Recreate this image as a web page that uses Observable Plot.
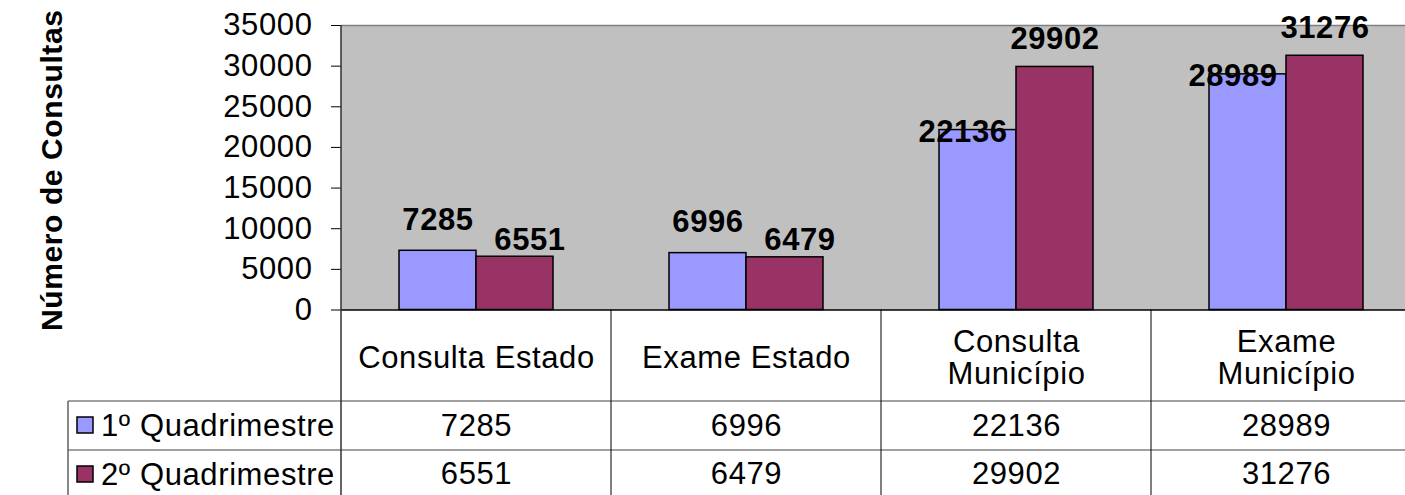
<!DOCTYPE html>
<html><head><meta charset="utf-8">
<script src="https://cdn.jsdelivr.net/npm/d3@7"></script>
<script src="https://cdn.jsdelivr.net/npm/@observablehq/plot@0.6"></script>
<style>
html,body{margin:0;padding:0;background:#fff;overflow:hidden;}
#chart svg{display:block;}
#chart svg text{letter-spacing:0.6px;}
</style></head><body><div id="chart"></div>
<script>
const categories = ["Consulta Estado", "Exame Estado", "Consulta Município", "Exame Município"];
const categoryLabels = ["Consulta Estado", "Exame Estado", "Consulta\nMunicípio", "Exame\nMunicípio"];
const seriesNames = ["1º Quadrimestre", "2º Quadrimestre"];
const q1 = [7285, 6996, 22136, 28989];
const q2 = [6551, 6479, 29902, 31276];
const yTicks = [0, 5000, 10000, 15000, 20000, 25000, 30000, 35000];
const yTitle = "Número de Consultas";
const colors = ["#9999FF", "#993366"];

const data = [];
categories.forEach((c, i) => {
  data.push({cat: c, series: seriesNames[0], value: q1[i]});
  data.push({cat: c, series: seriesNames[1], value: q2[i]});
});
const headers = categories.map((c, i) => ({cat: c, label: categoryLabels[i]}));

const FONT = "'Liberation Sans', Arial, sans-serif";
const FS = 31;
const W = 1422, H = 495;
const isEstado = d => d.cat.endsWith("Estado");
const isS1 = d => d.series === seriesNames[0];

const lbl = (filter, dx, dy) => Plot.text(data.filter(filter), {
  fx: "cat", x: "series", y: "value", text: d => String(d.value),
  dx, dy, fontWeight: "bold", fontSize: FS, fill: "black"
});
const cellText = (rows, text, dy) => Plot.text(rows, {
  fx: "cat", text, frameAnchor: "bottom", lineAnchor: "middle", dy, fontSize: FS, lineHeight: 1.02, fill: "black"
});

const plot = Plot.plot({
  width: W, height: H,
  marginLeft: 340, marginRight: 0, marginTop: 25, marginBottom: 185.5,
  style: {fontFamily: FONT, fontSize: FS + "px", maxWidth: "none", background: "white", color: "black", overflow: "visible"},
  fx: {domain: categories, padding: 0, axis: null, label: null},
  x: {domain: seriesNames, paddingInner: 0, paddingOuter: 0.75, axis: null},
  y: {domain: [0, 35000], ticks: yTicks, tickSize: 10, tickPadding: 19, tickFormat: d => String(d), label: null},
  color: {domain: seriesNames, range: colors},
  marks: [
    Plot.frame({fill: "#C0C0C0", stroke: null}),
    Plot.ruleY([35000], {stroke: "#808080", strokeWidth: 1.5}),
    Plot.barY(data, {fx: "cat", x: "series", y: "value", fill: "series", stroke: "black", strokeWidth: 1.5}),
    Plot.ruleY([0], {stroke: "black", strokeWidth: 1.5}),
    lbl(d => isEstado(d) && isS1(d), 0, -31),
    lbl(d => isEstado(d) && !isS1(d), 15, -17),
    lbl(d => !isEstado(d) && isS1(d), -15, 2),
    lbl(d => !isEstado(d) && !isS1(d), 0, -28),
    cellText(headers, "label", 48),
    cellText(data.filter(isS1), d => String(d.value), 115.5),
    cellText(data.filter(d => !isS1(d)), d => String(d.value), 163.5)
  ]
});
document.getElementById("chart").appendChild(plot);

// background underlay, table grid, legend cells, axis line, y title
const svg = d3.select(plot);
const fx = plot.scale("fx");
const y = plot.scale("y");
const y0 = y.apply(0), yTop = y.apply(35000);
const xL = fx.apply(categories[0]);
const row1 = 401, row2 = 450, tableLeft = 68;

const firstG = plot.querySelector("g");
const under = document.createElementNS("http://www.w3.org/2000/svg", "rect");
under.setAttribute("x", xL); under.setAttribute("y", yTop);
under.setAttribute("width", W - xL); under.setAttribute("height", y0 - yTop);
under.setAttribute("fill", "#C0C0C0");
plot.insertBefore(under, firstG);

const g = svg.append("g");
[row1, row2].forEach(ry => g.append("line").attr("x1", tableLeft).attr("x2", W).attr("y1", ry).attr("y2", ry)
  .attr("stroke", "#808080").attr("stroke-width", 1.5));
g.append("line").attr("x1", tableLeft).attr("x2", tableLeft).attr("y1", row1).attr("y2", H)
  .attr("stroke", "#606060").attr("stroke-width", 1.5);
categories.forEach((c, i) => {
  if (i === 0) return;
  const xx = fx.apply(c);
  g.append("line").attr("x1", xx).attr("x2", xx).attr("y1", y0).attr("y2", H)
    .attr("stroke", "black").attr("stroke-width", 1);
});
g.append("line").attr("x1", xL).attr("x2", xL).attr("y1", yTop).attr("y2", H)
  .attr("stroke", "#303030").attr("stroke-width", 1.5);
[row1, row2].forEach((ry, i) => {
  const cy = ry + 24;
  g.append("rect").attr("x", 77).attr("y", cy - 8).attr("width", 16).attr("height", 16)
    .attr("fill", colors[i]).attr("stroke", "black").attr("stroke-width", 1.5);
  g.append("text").attr("x", 101).attr("y", cy).attr("dy", "0.35em").attr("text-anchor", "start")
    .attr("font-family", FONT).attr("font-size", FS).attr("fill", "black").text(seriesNames[i]);
});
g.append("text").attr("transform", `translate(62,${(yTop + y0) / 2 + 3}) rotate(-90)`)
  .attr("text-anchor", "middle").attr("font-family", FONT).attr("font-size", 30)
  .attr("font-weight", "bold").attr("fill", "black").text(yTitle);
</script>
</body></html>
